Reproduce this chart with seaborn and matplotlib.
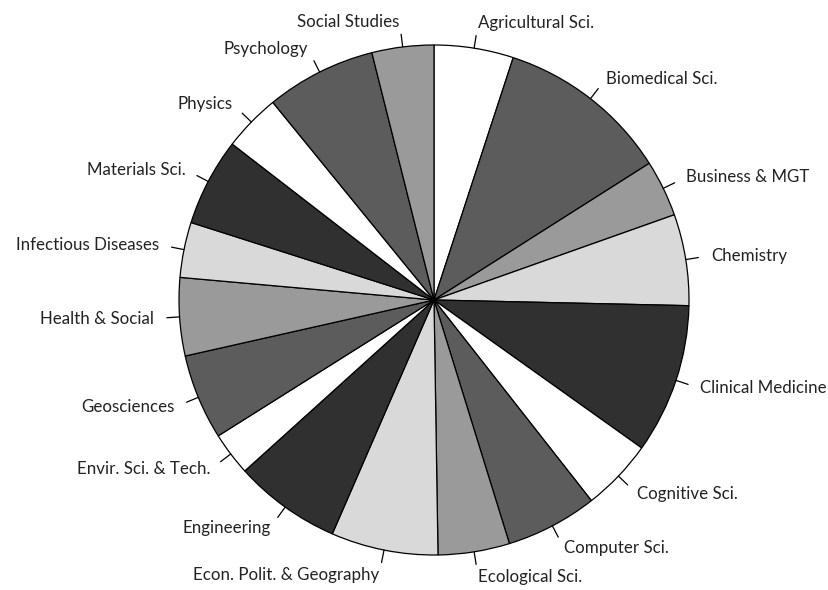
import matplotlib
matplotlib.use("Agg")
import matplotlib.pyplot as plt
import seaborn as sns
import numpy as np

# share of each field (percent), clockwise from 12 o'clock
fields = ["Agricultural Sci.", "Biomedical Sci.", "Business & MGT", "Chemistry",
          "Clinical Medicine", "Cognitive Sci.", "Computer Sci.", "Ecological Sci.",
          "Econ. Polit. & Geography", "Engineering", "Envir. Sci. & Tech.", "Geosciences",
          "Health & Social", "Infectious Diseases", "Materials Sci.", "Physics",
          "Psychology", "Social Studies"]
shares = [5.03, 10.97, 3.58, 5.78, 9.50, 4.56, 5.81, 4.53, 6.78,
          6.78, 2.75, 5.42, 4.94, 3.50, 5.56, 3.64, 6.97, 3.92]
grays = ["#ffffff", "#5c5c5c", "#9a9a9a", "#d9d9d9", "#303030"]

sns.set_style("white")
plt.rcParams['font.family'] = ['Lato', 'DejaVu Sans']

fig = plt.figure(figsize=(8.29, 5.90), dpi=100)
ax = fig.add_axes([0, 0, 1, 1])

colors = [grays[i % len(grays)] for i in range(len(fields))]
wedges, texts = ax.pie(shares, labels=fields, colors=colors, startangle=90,
                       counterclock=False, radius=1.0, labeldistance=1.1,
                       wedgeprops=dict(edgecolor="black", linewidth=0.9),
                       textprops=dict(fontsize=12.2, color="#222222"))

# little tick marks from the rim toward each label
for w in wedges:
    mid = np.deg2rad((w.theta1 + w.theta2) / 2)
    ax.plot([np.cos(mid), 1.05 * np.cos(mid)], [np.sin(mid), 1.05 * np.sin(mid)],
            color="black", linewidth=0.9)

# place the pie like in the original picture (centre ~ (434, 300) px, r ~ 255 px)
ax.set_xlim(-434 / 255, (829 - 434) / 255)
ax.set_ylim(-(590 - 300) / 255, 300 / 255)
ax.set_aspect("auto")
ax.axis("off")

fig.savefig("out.png", dpi=100)
